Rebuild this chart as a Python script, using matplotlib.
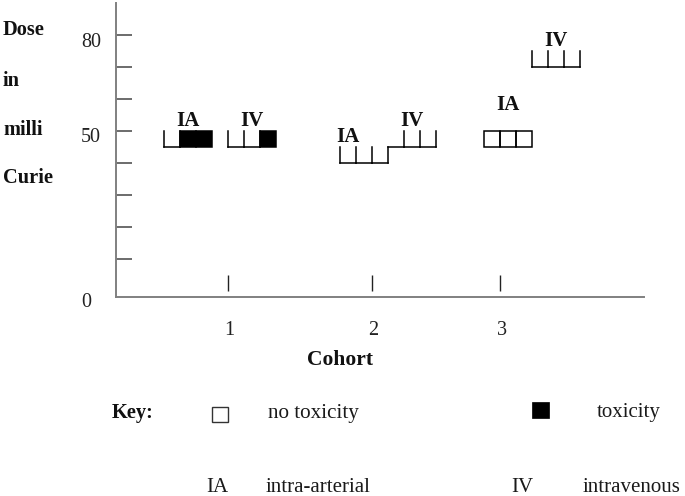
import matplotlib
matplotlib.use('Agg')
import matplotlib.pyplot as plt
from matplotlib.patches import Rectangle

W, H, DPI = 685, 496, 100
SERIF = ['Liberation Serif', 'DejaVu Serif']

# ---------------- data ----------------
cohorts = [1, 2, 3]
cohort_pos = [7, 16, 24]                  # cohort tick positions (cell units)
routes = ['IA', 'IV', 'IA', 'IV', 'IA', 'IV']
group_start = [3, 7, 14, 17, 23, 26]      # first cell of each group
doses = [50, 50, 45, 50, 50, 75]          # dose in milli Curie
toxicity = [[0, 1, 1], [0, 0, 1], [0, 0, 0], [0, 0, 0], [0, 0, 0], [0, 0, 0]]
cell_style = ['tally', 'tally', 'tally', 'tally_noleft', 'box', 'tally']
label_x = [4.5, 8.5, 14.5, 18.5, 24.5, 27.5]
label_y = [51.6, 51.6, 46.5, 51.6, 56.6, 76.7]
y_ticks = [10, 20, 30, 40, 50, 60, 70, 80]
y_tick_labels = ['0', '50', '80']
y_tick_label_pos = [-4.9, 46.7, 76.3]
y_words = ['Dose', 'in', 'milli', 'Curie']
y_word_baselines = [35, 86, 135, 183]     # pixel rows
CELL_H = 5

plt.rcParams['font.family'] = SERIF

fig = plt.figure(figsize=(W / DPI, H / DPI), dpi=DPI)
fig.patch.set_facecolor('white')


def fx(px):
    return px / W


def fy(py):
    return 1 - py / H


ax = fig.add_axes([fx(116), fy(297), fx(644) - fx(116), fy(3) - fy(297)])
ax.set_xlim(0, 33)
ax.set_ylim(-1.875, 90)
ax.set_facecolor('none')
for s in ['top', 'right']:
    ax.spines[s].set_visible(False)
for s in ['left', 'bottom']:
    ax.spines[s].set_color('#808080')
    ax.spines[s].set_linewidth(1.4)
ax.set_xticks([])
ax.set_yticks([])

# y tick marks (inside)
ax.hlines(y_ticks, 0, 1, color='#444444', lw=1.1)
for lab, pos in zip(y_tick_labels, y_tick_label_pos):
    ax.text(-2.19, pos, lab, ha='left', va='baseline', fontsize=14.5,
            color='#222222', clip_on=False)

# cohort ticks
ax.vlines(cohort_pos, 0, 5, color='#222222', lw=1)
for c, p in zip(cohorts, cohort_pos):
    ax.text(p + 0.1, -13.75, str(c), ha='center', va='baseline', fontsize=14.5,
            color='#222222', clip_on=False)
ax.text(14, -23.1, 'Cohort', ha='center', va='baseline', fontsize=15.5,
        fontweight='bold', color='#111111', clip_on=False)

# patient cells
lw = 1.1
for g in range(len(routes)):
    x0g = group_start[g]
    top = doses[g]
    base = top - CELL_H
    for i, tox in enumerate(toxicity[g]):
        x0 = x0g + i
        if tox:
            ax.add_patch(Rectangle((x0, base), 1, CELL_H, facecolor='black',
                                   edgecolor='black', lw=lw))
            continue
        if cell_style[g] == 'box':
            ax.add_patch(Rectangle((x0, base), 1, CELL_H, facecolor='none',
                                   edgecolor='black', lw=lw))
            continue
        ax.plot([x0, x0 + 1], [base, base], color='black', lw=lw,
                solid_capstyle='projecting')
        ax.plot([x0 + 1, x0 + 1], [base, top], color='black', lw=lw)
        if i == 0 and cell_style[g] != 'tally_noleft':
            ax.plot([x0, x0], [base, top], color='black', lw=lw)
    ax.text(label_x[g], label_y[g], routes[g], ha='center', va='baseline',
            fontsize=15, fontweight='bold', color='#111111')

# y-axis words
for w, b in zip(y_words, y_word_baselines):
    fig.text(fx(3), fy(b), w, ha='left', va='baseline', fontsize=14.7,
             fontweight='bold', color='#111111')

# key
fig.text(fx(112), fy(418), 'Key:', ha='left', va='baseline', fontsize=14.7,
         fontweight='bold', color='#111111')
fig.add_artist(Rectangle((fx(212), fy(422)), fx(228) - fx(212), fy(407) - fy(422),
                         transform=fig.transFigure, facecolor='white',
                         edgecolor='#333333', lw=1))
fig.text(fx(268), fy(418), 'no toxicity', ha='left', va='baseline', fontsize=15.2,
         color='#1a1a1a')
fig.add_artist(Rectangle((fx(532), fy(418)), fx(549) - fx(532), fy(402) - fy(418),
                         transform=fig.transFigure, facecolor='black',
                         edgecolor='black', lw=0.5))
fig.text(fx(597), fy(417), 'toxicity', ha='left', va='baseline', fontsize=15,
         color='#1a1a1a')
fig.text(fx(206), fy(492), 'IA', ha='left', va='baseline', fontsize=15,
         color='#1a1a1a')
fig.text(fx(266), fy(492), 'intra-arterial', ha='left', va='baseline', fontsize=15,
         color='#1a1a1a')
fig.text(fx(511), fy(492), 'IV', ha='left', va='baseline', fontsize=15,
         color='#1a1a1a')
fig.text(fx(583), fy(492), 'intravenous', ha='left', va='baseline', fontsize=15,
         color='#1a1a1a')

fig.savefig('out.png', dpi=DPI, facecolor='white')
